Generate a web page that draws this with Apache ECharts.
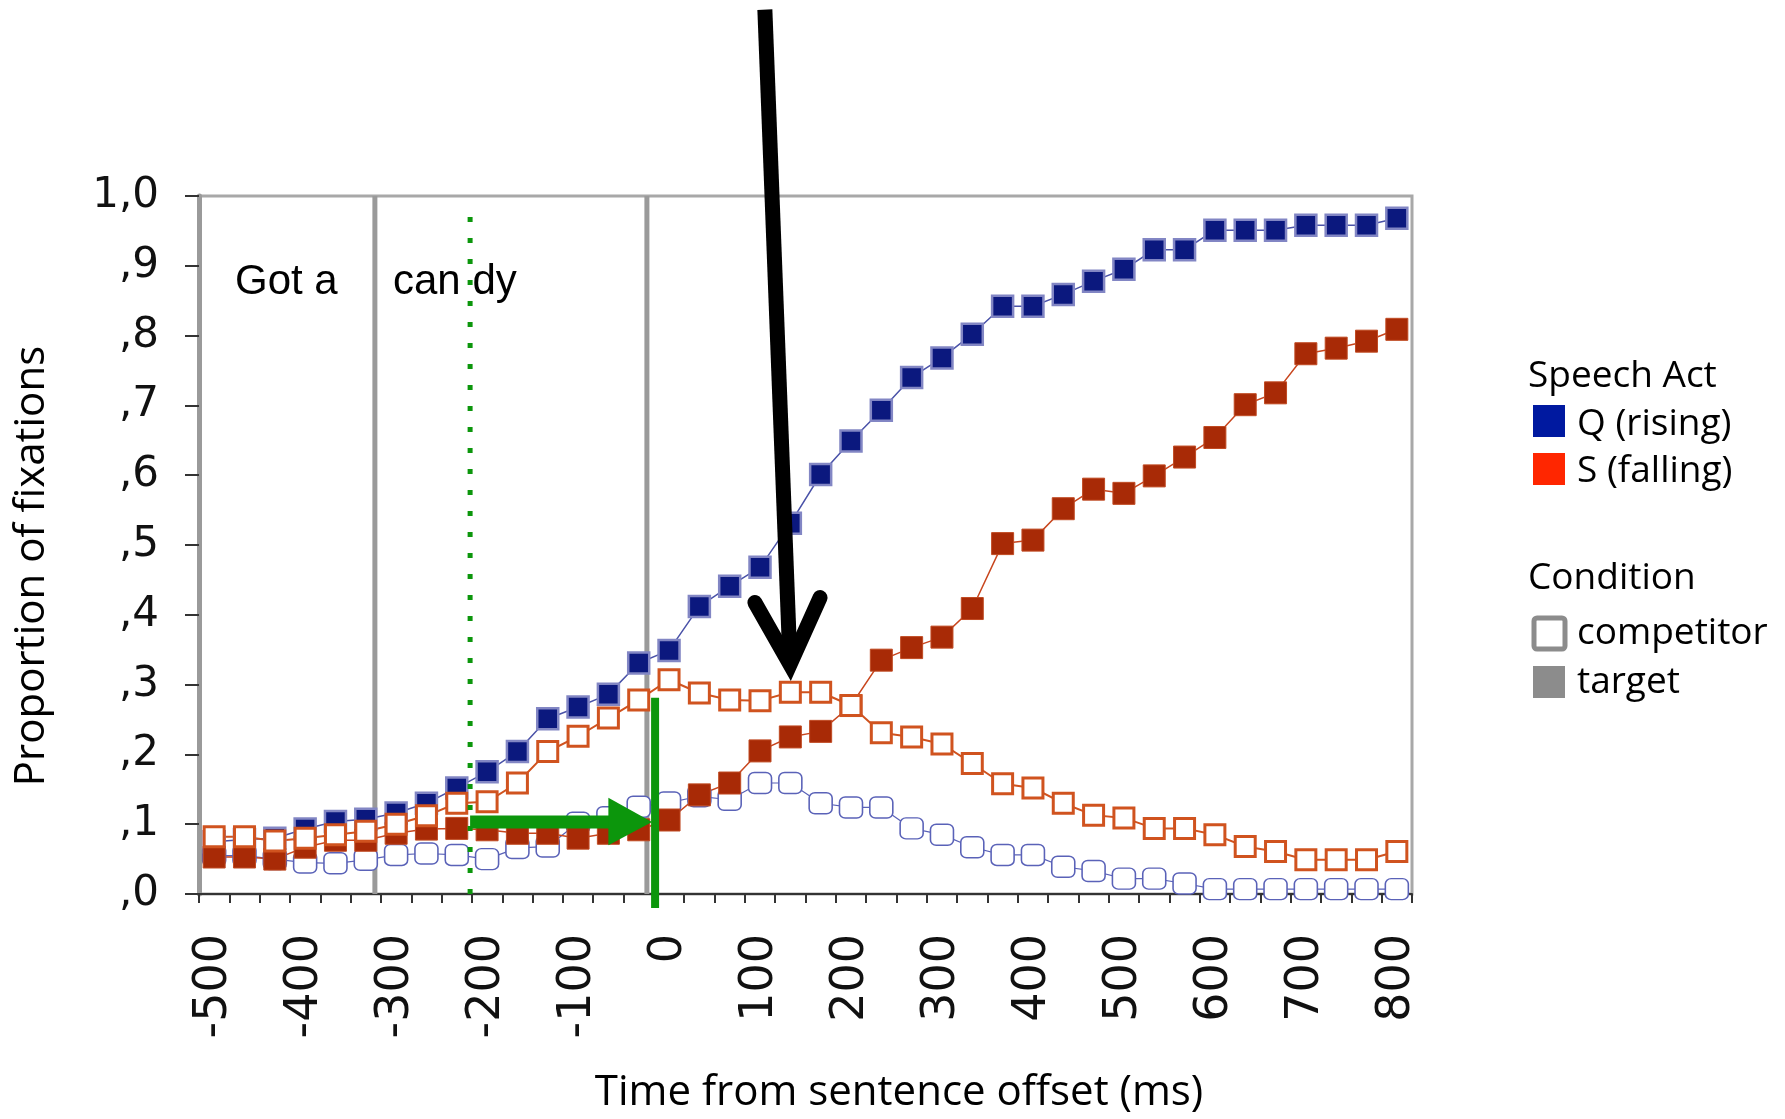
<!DOCTYPE html>
<html>
<head>
<meta charset="utf-8">
<title>Proportion of fixations</title>
<script src="https://cdn.jsdelivr.net/npm/echarts@6/dist/echarts.min.js"></script>
<style>
  html, body { margin: 0; padding: 0; background: #fff; }
  #chart { width: 1785px; height: 1119px; }
</style>
</head>
<body>
<div id="chart"></div>
<script>
// time bins, ms from sentence offset (one bin = 33 ms)
const bins = ['-500','-467','-433','-400','-367','-333','-300','-267','-233','-200',
  '-167','-133','-100','-67','-33','0','33','67','100','133',
  '167','200','233','267','300','333','367','400','433','467',
  '500','533','567','600','633','667','700','733','767','800'];

const yTicks = [',0', ',1', ',2', ',3', ',4', ',5', ',6', ',7', ',8', ',9', '1,0'];

// Q (rising), target
const q_target = [0.075,0.078,0.080,0.093,0.104,0.107,0.116,0.130,0.152,0.175,
  0.204,0.251,0.268,0.286,0.331,0.349,0.412,0.441,0.468,0.531,
  0.601,0.649,0.693,0.740,0.768,0.802,0.842,0.842,0.859,0.878,
  0.895,0.923,0.923,0.951,0.951,0.951,0.958,0.958,0.958,0.968];

// S (falling), target
const s_target = [0.053,0.053,0.050,0.067,0.077,0.077,0.087,0.093,0.094,0.092,
  0.087,0.087,0.080,0.087,0.092,0.106,0.142,0.159,0.205,0.225,
  0.233,0.270,0.335,0.353,0.368,0.409,0.502,0.507,0.552,0.580,
  0.574,0.599,0.626,0.654,0.701,0.718,0.774,0.782,0.792,0.809];

// Q (rising), competitor
const q_competitor = [0.055,0.055,0.050,0.045,0.044,0.049,0.056,0.058,0.056,0.050,
  0.066,0.068,0.102,0.110,0.125,0.131,0.140,0.135,0.159,0.159,
  0.130,0.124,0.124,0.094,0.085,0.067,0.056,0.056,0.039,0.033,
  0.022,0.022,0.015,0.007,0.007,0.007,0.007,0.007,0.007,0.007];

// S (falling), competitor
const s_competitor = [0.082,0.082,0.076,0.080,0.085,0.090,0.100,0.112,0.130,0.132,
  0.159,0.204,0.226,0.252,0.278,0.307,0.288,0.278,0.277,0.289,
  0.289,0.270,0.231,0.225,0.215,0.187,0.158,0.152,0.130,0.113,
  0.109,0.094,0.094,0.085,0.068,0.061,0.049,0.049,0.049,0.061];

const SANS = '"Open Sans", "Noto Sans", sans-serif';
const ARIAL = '"Liberation Sans", Arial, sans-serif';

let option = {
    animation: false,
    backgroundColor: '#ffffff',
    grid: {
        left: 199, right: 373, top: 196, bottom: 225,
        outerBoundsMode: 'none',
        show: true,
        borderColor: '#a8a8a8',
        borderWidth: 3
    },
    xAxis: [{
        type: 'category',
        data: bins,
        boundaryGap: true,
        axisLine: { lineStyle: { color: '#333333', width: 2 } },
        axisTick: { show: true, interval: 0, length: 9, lineStyle: { color: '#333333', width: 2 } },
        axisLabel: {
            interval: 2, rotate: 90, margin: 40,
            fontFamily: 'DejaVu Sans', fontSize: 46, color: '#111111'
        },
        splitLine: { show: false }
    }, {
        // index scale used to place the hand drawn marks
        type: 'value', min: -0.5, max: 39.5, show: false
    }],
    yAxis: {
        type: 'value', min: 0, max: 1, interval: 0.1,
        axisLine: { show: true, onZero: false, lineStyle: { color: '#9a9a9a', width: 5 } },
        axisTick: { show: true, length: 14, lineStyle: { color: '#333333', width: 2 } },
        axisLabel: {
            margin: 40, fontFamily: 'DejaVu Sans', fontSize: 42, color: '#111111',
            formatter: function (v) { return yTicks[Math.round(v * 10)]; }
        },
        splitLine: { show: false }
    },
    series: [{
        name: 'Q competitor',
        type: 'line',
        data: q_competitor,
        showAllSymbol: true,
        symbol: 'roundRect', symbolSize: [23, 21],
        itemStyle: { color: '#ffffff', borderColor: '#5a62b8', borderWidth: 1.5 },
        lineStyle: { color: '#5a62b8', width: 1.2 }
    }, {
        name: 'Q target',
        type: 'line',
        data: q_target,
        showAllSymbol: true,
        symbol: 'rect', symbolSize: 21,
        itemStyle: { color: '#0b187e', borderColor: '#8286c4', borderWidth: 2.5 },
        lineStyle: { color: '#4a52a8', width: 1.5 }
    }, {
        name: 'S target',
        type: 'line',
        data: s_target,
        showAllSymbol: true,
        symbol: 'rect', symbolSize: 22,
        itemStyle: { color: '#a82a06', borderColor: '#c04a22', borderWidth: 1 },
        lineStyle: { color: '#c8461e', width: 1.5 }
    }, {
        name: 'S competitor',
        type: 'line',
        data: s_competitor,
        showAllSymbol: true,
        symbol: 'rect', symbolSize: 20,
        itemStyle: { color: '#ffffff', borderColor: '#d0531f', borderWidth: 3 },
        lineStyle: { color: '#d0531f', width: 2 }
    }]
};

var myChart = echarts.init(document.getElementById('chart'));
myChart.setOption(option);

function px(i, v) {
    return myChart.convertToPixel({ xAxisIndex: 1, yAxisIndex: 0 }, [i, v]);
}

function vline(i, v0, v1, style, z) {
    let a = px(i, v0), b = px(i, v1);
    return { type: 'line', z: z, shape: { x1: a[0], y1: a[1], x2: b[0], y2: b[1] }, style: style };
}

function label(txt, x, y, font, align) {
    return {
        type: 'text', z: 40, x: x, y: y,
        style: { text: txt, font: font, fill: '#000', align: align || 'left', verticalAlign: 'middle' }
    };
}

const GREEN = '#0c960c';
let arrowTip = px(18.99, 0.329);

let graphics = [
    // word boundaries
    vline(5.30, 0, 1, { stroke: '#9a9a9a', lineWidth: 5 }, 1),
    vline(14.27, 0, 1, { stroke: '#9a9a9a', lineWidth: 5 }, 1),
    // green marks
    vline(8.44, 0, 0.984, { stroke: GREEN, lineWidth: 5, lineDash: [5, 16] }, 50),
    vline(14.54, -0.02, 0.281, { stroke: GREEN, lineWidth: 8 }, 50),
    {
        type: 'line', z: 50,
        shape: { x1: px(8.44, 0.103)[0], y1: px(8.44, 0.103)[1], x2: px(13.1, 0.103)[0], y2: px(13.1, 0.103)[1] },
        style: { stroke: GREEN, lineWidth: 13 }
    },
    {
        type: 'polygon', z: 50,
        shape: { points: [px(13.0, 0.138), px(13.0, 0.070), px(14.44, 0.103)] },
        style: { fill: GREEN }
    },
    // black arrow
    {
        type: 'polyline', z: 60,
        shape: { points: [px(18.16, 1.267), arrowTip] },
        style: { stroke: '#000000', lineWidth: 15, fill: null, lineCap: 'butt' }
    },
    {
        type: 'polyline', z: 60,
        shape: { points: [px(17.83, 0.4175), arrowTip, px(19.98, 0.4247)] },
        style: { stroke: '#000000', lineWidth: 15, fill: null, lineCap: 'round', lineJoin: 'miter' }
    },
    // words
    label('Got a', 235, 282, '42px ' + ARIAL),
    label('can dy', 393, 282, '42px ' + ARIAL),
    // axis titles
    label('Time from sentence offset (ms)', 899, 1093, '42px ' + SANS, 'center'),
    Object.assign(label('Proportion of fixations', 32, 566, '42px ' + SANS, 'center'), { rotation: Math.PI / 2 }),
    // legend
    label('Speech Act', 1528, 376, '37px ' + SANS),
    { type: 'rect', z: 40, shape: { x: 1533, y: 405, width: 32, height: 32 }, style: { fill: '#0019a0' } },
    label('Q (rising)', 1577, 424, '37px ' + SANS),
    { type: 'rect', z: 40, shape: { x: 1533, y: 453, width: 32, height: 32 }, style: { fill: '#ff2600' } },
    label('S (falling)', 1577, 471, '37px ' + SANS),
    label('Condition', 1528, 578, '37px ' + SANS),
    { type: 'rect', z: 40, shape: { x: 1534, y: 618, width: 31, height: 31, r: 3 }, style: { fill: '#ffffff', stroke: '#8c8c8c', lineWidth: 5 } },
    label('competitor', 1577, 633, '37px ' + SANS),
    { type: 'rect', z: 40, shape: { x: 1533, y: 666, width: 32, height: 32 }, style: { fill: '#8c8c8c' } },
    label('target', 1577, 682, '37px ' + SANS)
];

myChart.setOption({ graphic: graphics });
</script>
</body>
</html>
